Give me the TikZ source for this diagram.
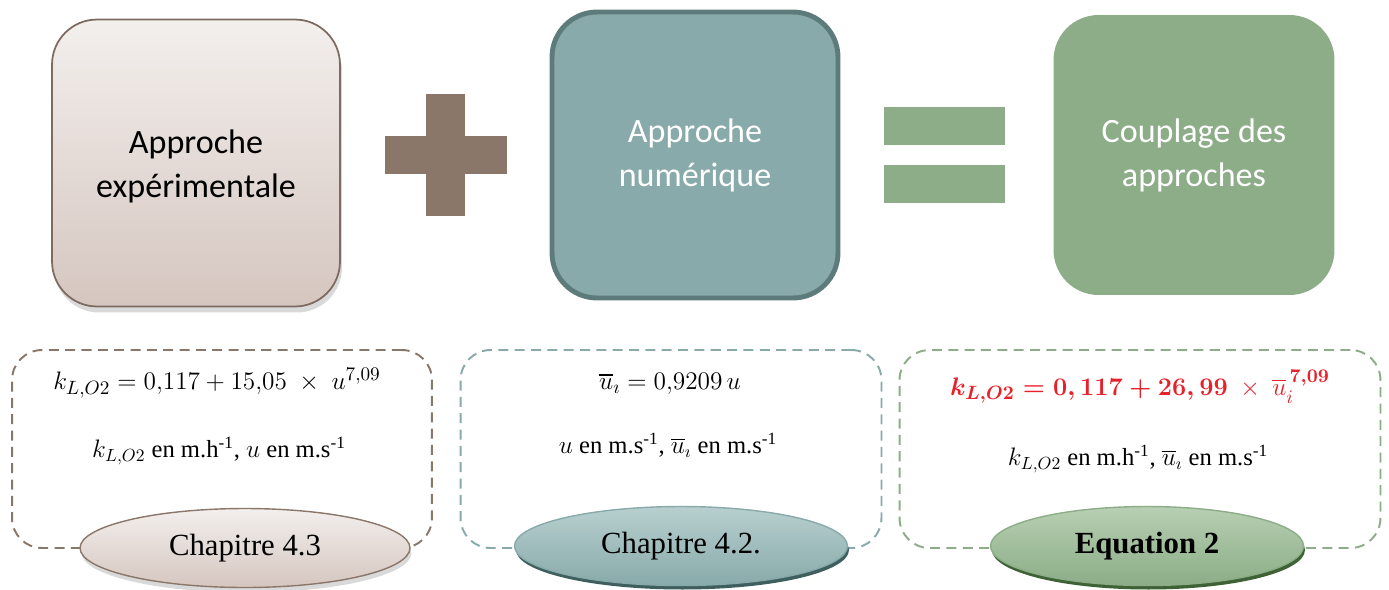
\documentclass[tikz,border=0pt]{standalone}
\usepackage{amsmath,amssymb}
\usepackage{fontspec}
\setmainfont{Liberation Serif}
\newfontfamily\calibfont{Carlito}
\usepackage{xcolor}
\usepackage{tikz}
\usetikzlibrary{shapes,shadows,positioning}

\definecolor{expline}{HTML}{7D6A60}
\definecolor{expdark}{HTML}{8B776A}
\definecolor{exptop}{HTML}{F3EFED}
\definecolor{expbot}{HTML}{D5C6BF}
\definecolor{numfill}{HTML}{88AAAA}
\definecolor{numline}{HTML}{5E7B7B}
\definecolor{numtop}{HTML}{B8CFCF}
\definecolor{numrim}{HTML}{3F5F5F}
\definecolor{coupfill}{HTML}{8CAD87}
\definecolor{couptop}{HTML}{B7CFB2}
\definecolor{couprim}{HTML}{3E6236}
\definecolor{eqred}{HTML}{E8202A}

\begin{document}
\begin{tikzpicture}[
    x=0.02cm, y=-0.02cm,
    bigbox/.style={rectangle, rounded corners=0.9cm, align=center, minimum width=5.76cm, minimum height=5.74cm, font=\calibfont\fontsize{19.4}{25}\selectfont},
    dashbox/.style={rectangle, rounded corners=0.6cm, line width=1.1pt, dash pattern=on 5.7pt off 3.6pt, minimum height=3.96cm},
    chap/.style={ellipse, inner sep=0pt, minimum height=1.58cm, font=\fontsize{17.5}{20}\selectfont},
    formula/.style={font=\fontsize{15.5}{18}\selectfont},
    unitline/.style={font=\fontsize{14}{16}\selectfont}
]
    \useasboundingbox (0,0) rectangle (1389,589);

    % Top: the three approaches
    \node[bigbox, draw=expline, line width=1pt, top color=exptop, bottom color=expbot,
          drop shadow={shadow xshift=0.04cm, shadow yshift=-0.12cm, fill=black!50, opacity=0.3}]
          (exp) at (196,163) {};
    \node[align=center, font=\calibfont\fontsize{19.4}{25}\selectfont] (exptext) at (196,166) {Approche\\expérimentale};
    \node[bigbox, draw=numline, line width=2.8pt, fill=numfill, text=white, minimum width=5.72cm, minimum height=5.72cm]
          (num) at (695,155) {Approche\\numérique};
    \node[bigbox, fill=coupfill, text=white, minimum width=5.62cm, minimum height=5.6cm]
          (coup) at (1194,155) {Couplage des\\approches};

    % Plus and equal signs
    \fill[expdark] (385,136) rectangle (507,174);
    \fill[expdark] (426,94) rectangle (465,216);
    \fill[coupfill] (884,107) rectangle (1005,145);
    \fill[coupfill] (884,165) rectangle (1005,203);

    % Bottom: dashed frames
    \node[dashbox, draw=expdark, minimum width=8.4cm] (expframe) at (222,449) {};
    \node[dashbox, draw=numfill, minimum width=8.42cm] (numframe) at (671,449) {};
    \node[dashbox, draw=coupfill, minimum width=9.62cm] (coupframe) at (1140,449) {};

    % Formulas
    \node[formula] (expeq) at (217,383) {$k_{L,O2} = 0{,}117 + 15{,}05\ \times\ u^{7{,}09}$};
    \node[unitline] (expunit) at (219,451) {$k_{L,O2}$ en m.h\textsuperscript{-1}, $u$ en m.s\textsuperscript{-1}};
    \node[formula] (numeq) at (670,384) {$\overline{u}_\imath = 0{,}9209\,u$};
    \node[unitline] (numunit) at (668,445) {$u$ en m.s\textsuperscript{-1}, $\overline{u}_\imath$ en m.s\textsuperscript{-1}};
    \node[formula, text=eqred] (coupeq) at (1140,387)
          {$\boldsymbol{k_{L,O2} = 0,117 + 26,99}\ \times\ \overline{u}_i^{\,\boldsymbol{7,09}}$};
    \node[unitline] (coupunit) at (1138,459) {$k_{L,O2}$ en m.h\textsuperscript{-1}, $\overline{u}_\imath$ en m.s\textsuperscript{-1}};

    % Chapter labels
    \node[chap, draw=expdark, line width=0.8pt, top color=exptop, bottom color=expbot, minimum width=6.6cm,
          drop shadow={shadow xshift=0.03cm, shadow yshift=-0.1cm, fill=black!50, opacity=0.3}]
          (expchap) at (245,548) {Chapitre 4.3};
    \node[chap, draw=numfill, line width=0.8pt, top color=numtop, bottom color=numfill, minimum width=6.66cm,
          drop shadow={shadow xshift=0.03cm, shadow yshift=-0.08cm, fill=numrim, opacity=1}]
          (numchap) at (681,546) {Chapitre 4.2.};
    \node[chap, draw=coupfill, line width=0.8pt, top color=couptop, bottom color=coupfill, minimum width=6.26cm,
          drop shadow={shadow xshift=0.03cm, shadow yshift=-0.08cm, fill=couprim, opacity=1},
          font=\fontsize{17.5}{20}\selectfont\bfseries]
          (coupchap) at (1147,546) {Equation 2};
\end{tikzpicture}
\end{document}
